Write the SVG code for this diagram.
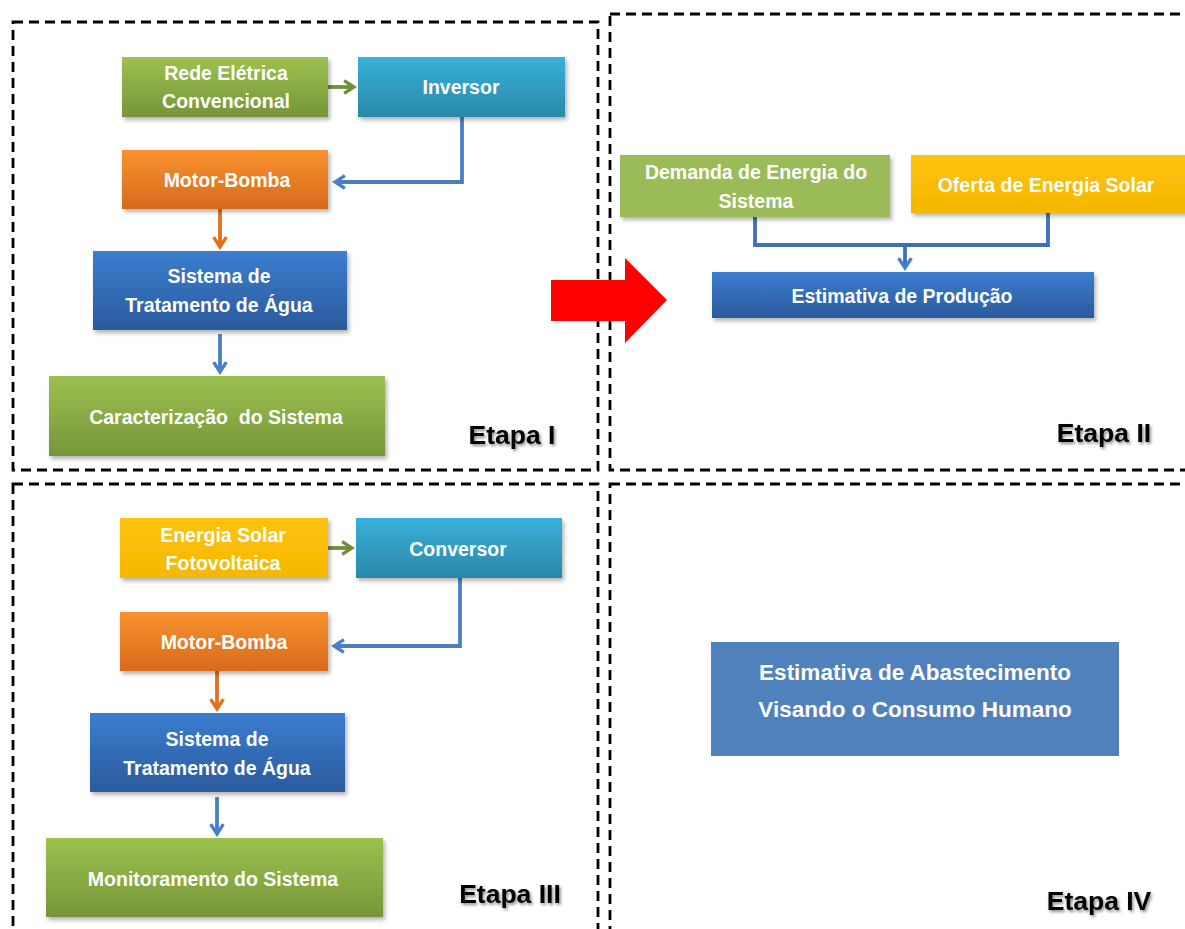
<svg xmlns="http://www.w3.org/2000/svg" width="1185" height="929" viewBox="0 0 1185 929">
<defs>
<linearGradient id="gGreen" x1="0" y1="0" x2="0" y2="1"><stop offset="0" stop-color="#9DC14F"/><stop offset="1" stop-color="#76953A"/></linearGradient>
<linearGradient id="gBlue" x1="0" y1="0" x2="0" y2="1"><stop offset="0" stop-color="#3B7DD0"/><stop offset="1" stop-color="#2B5A9C"/></linearGradient>
<linearGradient id="gOrange" x1="0" y1="0" x2="0" y2="1"><stop offset="0" stop-color="#F7922F"/><stop offset="1" stop-color="#D86A1C"/></linearGradient>
<linearGradient id="gCyan" x1="0" y1="0" x2="0" y2="1"><stop offset="0" stop-color="#39B0DB"/><stop offset="1" stop-color="#2A88A6"/></linearGradient>
<linearGradient id="gYellow" x1="0" y1="0" x2="0" y2="1"><stop offset="0" stop-color="#FFC20E"/><stop offset="1" stop-color="#F5B800"/></linearGradient>
<filter id="sh" x="-10%" y="-10%" width="125%" height="135%"><feDropShadow dx="2" dy="3" stdDeviation="2" flood-color="#000" flood-opacity="0.3"/></filter>
<filter id="tsh" x="-10%" y="-20%" width="130%" height="160%"><feDropShadow dx="1.5" dy="2" stdDeviation="1.5" flood-color="#000" flood-opacity="0.45"/></filter>
<marker id="aGreen" viewBox="0 0 10 10" refX="8" refY="5" markerWidth="4" markerHeight="4" orient="auto" markerUnits="strokeWidth"><path d="M1.5,0.8 L8,5 L1.5,9.2" fill="none" stroke="#6F8F3A" stroke-width="2.2"/></marker>
<marker id="aBlue" viewBox="0 0 10 10" refX="8" refY="5" markerWidth="4" markerHeight="4" orient="auto" markerUnits="strokeWidth"><path d="M1.5,0.8 L8,5 L1.5,9.2" fill="none" stroke="#4A7FC8" stroke-width="2.2"/></marker>
<marker id="aOrange" viewBox="0 0 10 10" refX="8" refY="5" markerWidth="4" markerHeight="4" orient="auto" markerUnits="strokeWidth"><path d="M1.5,0.8 L8,5 L1.5,9.2" fill="none" stroke="#E0701E" stroke-width="2.2"/></marker>
</defs>
<style>
.frame{fill:none;stroke:#000;stroke-width:2.8;stroke-dasharray:10 6}
.box{filter:url(#sh)}
.t{font-family:"Liberation Sans",Arial,sans-serif;font-weight:bold;font-size:19.5px;fill:#fff;text-anchor:middle}
.et{font-family:"Liberation Sans",Arial,sans-serif;font-weight:bold;font-size:26.5px;fill:#000;text-anchor:middle;filter:url(#tsh)}
.c{fill:none;stroke-width:3.8}
</style>
<rect width="1185" height="929" fill="#fff"/>
<g id="frames">
<rect class="frame" x="13" y="22" width="585" height="448"/>
<rect class="frame" x="610" y="14" width="590" height="456"/>
<rect class="frame" x="13" y="484" width="585" height="460"/>
<rect class="frame" x="610" y="484" width="590" height="460"/>
</g>
<g id="connectors">
<path class="c" d="M328,87 L354,87" stroke="#6F8F3A" marker-end="url(#aGreen)"/>
<path class="c" d="M462,117 L462,182 L335,182" stroke="#4A7FC8" marker-end="url(#aBlue)"/>
<path class="c" d="M220,209 L220,247" stroke="#E0701E" marker-end="url(#aOrange)"/>
<path class="c" d="M220,334 L220,372" stroke="#4A7FC8" marker-end="url(#aBlue)"/>
<path class="c" d="M755,217 L755,245 L1048,245 L1048,213" stroke="#3E70B8"/>
<path class="c" d="M905,245 L905,268" stroke="#3E70B8" marker-end="url(#aBlue)"/>
<path class="c" d="M328,548 L352,548" stroke="#6F8F3A" marker-end="url(#aGreen)"/>
<path class="c" d="M460,578 L460,646 L334,646" stroke="#4A7FC8" marker-end="url(#aBlue)"/>
<path class="c" d="M217,671 L217,709" stroke="#E0701E" marker-end="url(#aOrange)"/>
<path class="c" d="M217,797 L217,834" stroke="#4A7FC8" marker-end="url(#aBlue)"/>
</g>
<g id="red-arrow"><path d="M551,280 L625,280 L625,258 L667,300 L625,343 L625,321 L551,321 Z" fill="#FF0000"/></g>
<g id="n-rede"><rect class="box" x="122" y="57" width="206" height="60" fill="url(#gGreen)"/><text class="t" x="226" y="80">Rede Elétrica</text><text class="t" x="226" y="108">Convencional</text></g>
<g id="n-inversor"><rect class="box" x="358" y="57" width="207" height="60" fill="url(#gCyan)"/><text class="t" x="461" y="94">Inversor</text></g>
<g id="n-motor1"><rect class="box" x="122" y="150" width="206" height="59" fill="url(#gOrange)"/><text class="t" x="227" y="187">Motor-Bomba</text></g>
<g id="n-trat1"><rect class="box" x="93" y="251" width="254" height="79" fill="url(#gBlue)"/><text class="t" x="219" y="283">Sistema de</text><text class="t" x="219" y="312">Tratamento de Água</text></g>
<g id="n-caract"><rect class="box" x="49" y="376" width="336" height="80" fill="url(#gGreen)"/><text class="t" x="216" y="424" xml:space="preserve">Caracterização  do Sistema</text></g>
<g id="n-etapa1"><text class="et" x="512" y="444">Etapa I</text></g>
<g id="n-demanda"><rect class="box" x="620" y="155" width="270" height="62" fill="#9BBB59"/><text class="t" x="756" y="179">Demanda de Energia do</text><text class="t" x="756" y="208">Sistema</text></g>
<g id="n-oferta"><rect class="box" x="911" y="155" width="276" height="58" fill="url(#gYellow)"/><text class="t" x="1046" y="192">Oferta de Energia Solar</text></g>
<g id="n-producao"><rect class="box" x="712" y="272" width="382" height="46" fill="url(#gBlue)"/><text class="t" x="902" y="303">Estimativa de Produção</text></g>
<g id="n-etapa2"><text class="et" x="1104" y="442">Etapa II</text></g>
<g id="n-solar"><rect class="box" x="120" y="518" width="208" height="60" fill="url(#gYellow)"/><text class="t" x="223" y="542">Energia Solar</text><text class="t" x="223" y="570">Fotovoltaica</text></g>
<g id="n-conversor"><rect class="box" x="356" y="518" width="206" height="60" fill="url(#gCyan)"/><text class="t" x="458" y="556">Conversor</text></g>
<g id="n-motor2"><rect class="box" x="120" y="612" width="208" height="59" fill="url(#gOrange)"/><text class="t" x="224" y="649">Motor-Bomba</text></g>
<g id="n-trat2"><rect class="box" x="90" y="713" width="255" height="79" fill="url(#gBlue)"/><text class="t" x="217" y="746">Sistema de</text><text class="t" x="217" y="775">Tratamento de Água</text></g>
<g id="n-monit"><rect class="box" x="46" y="838" width="337" height="79" fill="url(#gGreen)"/><text class="t" x="213" y="886">Monitoramento do Sistema</text></g>
<g id="n-etapa3"><text class="et" x="510" y="903">Etapa III</text></g>
<g id="n-abast"><rect x="711" y="642" width="408" height="114" fill="#4F81BD"/><text class="t" x="915" y="680" style="font-size:22.5px">Estimativa de Abastecimento</text><text class="t" x="915" y="717" style="font-size:22.5px">Visando o Consumo Humano</text></g>
<g id="n-etapa4"><text class="et" x="1099" y="910">Etapa IV</text></g>
</svg>
